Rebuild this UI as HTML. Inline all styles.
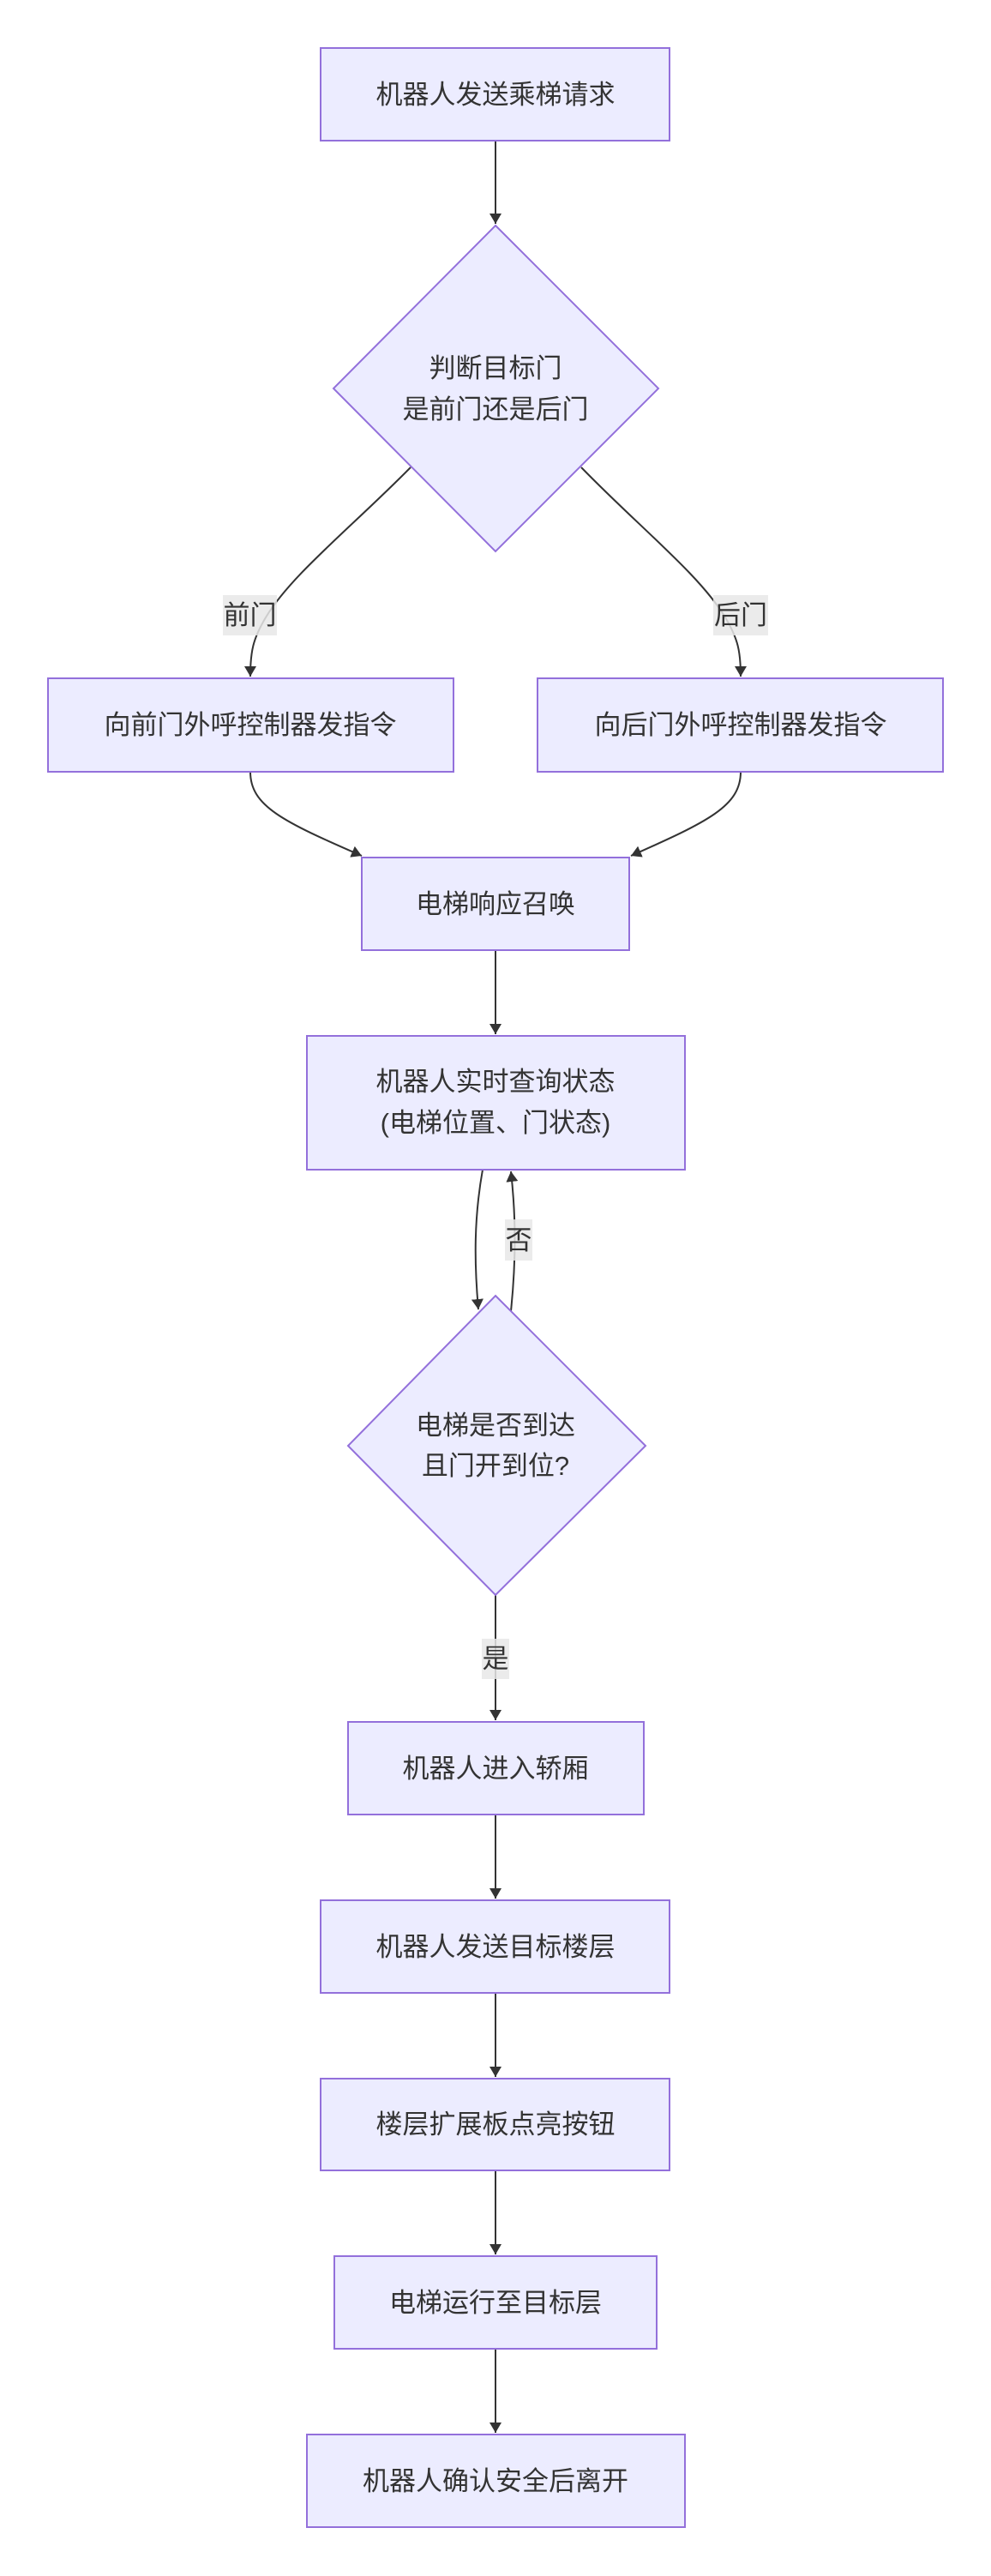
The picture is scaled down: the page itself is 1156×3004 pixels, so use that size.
<!DOCTYPE html>
<html><head><meta charset="utf-8"><style>
html,body{margin:0;padding:0;background:#fff;}
svg{display:block;}
text{font-family:"Liberation Sans","Noto Sans CJK SC",sans-serif;font-size:31px;fill:#333;}
.n{fill:#ECECFF;stroke:#9370DB;stroke-width:2;}
.e{fill:none;stroke:#333;stroke-width:2;}
.lb{fill:rgba(232,232,232,0.85);}
</style></head><body>
<svg width="1156" height="3004" viewBox="0 0 1156 3004" xmlns="http://www.w3.org/2000/svg">
<defs>
<marker id="a" markerUnits="userSpaceOnUse" markerWidth="14" markerHeight="14" refX="12" refY="7" orient="auto">
<path d="M0,0 L12,7 L0,14 z" fill="#333"/>
</marker>
</defs>

<!-- edges -->
<path class="e" d="M578,164 L578,261" marker-end="url(#a)"/>
<path class="e" d="M479,545 C410,615 340,670 310,720 C295,745 292,760 292,789" marker-end="url(#a)"/>
<path class="e" d="M678,545 C746,615 816,670 846,720 C861,745 864,760 864,789" marker-end="url(#a)"/>
<path class="e" d="M292,900 C292,940 330,958 422,998" marker-end="url(#a)"/>
<path class="e" d="M864,900 C864,940 826,958 736,998" marker-end="url(#a)"/>
<path class="e" d="M578,1108 L578,1206" marker-end="url(#a)"/>
<path class="e" d="M563,1364 C553,1420 553,1470 558,1527" marker-end="url(#a)"/>
<path class="e" d="M596,1529 C602,1470 602,1420 596,1366" marker-end="url(#a)"/>
<path class="e" d="M578,1860 L578,2006" marker-end="url(#a)"/>
<path class="e" d="M578,2116 L578,2214" marker-end="url(#a)"/>
<path class="e" d="M578,2324 L578,2422" marker-end="url(#a)"/>
<path class="e" d="M578,2531 L578,2629" marker-end="url(#a)"/>
<path class="e" d="M578,2739 L578,2837" marker-end="url(#a)"/>

<!-- edge labels -->
<rect class="lb" x="260" y="694" width="63" height="47"/>
<text x="291.5" y="728" text-anchor="middle">前门</text>
<rect class="lb" x="832" y="694" width="64" height="47"/>
<text x="864" y="728" text-anchor="middle">后门</text>
<rect class="lb" x="589" y="1422" width="32" height="48"/>
<text x="605" y="1457" text-anchor="middle">否</text>
<rect class="lb" x="562" y="1911" width="32" height="47"/>
<text x="578" y="1945" text-anchor="middle">是</text>

<!-- nodes -->
<rect class="n" x="374" y="56" width="407" height="108"/>
<text x="578" y="121" text-anchor="middle">机器人发送乘梯请求</text>

<polygon class="n" points="578,263 768,453 578,643 389,453"/>
<text x="578" y="440" text-anchor="middle">判断目标门</text>
<text x="578" y="488" text-anchor="middle">是前门还是后门</text>

<rect class="n" x="56" y="791" width="473" height="109"/>
<text x="292" y="856" text-anchor="middle">向前门外呼控制器发指令</text>
<rect class="n" x="627" y="791" width="473" height="109"/>
<text x="864" y="856" text-anchor="middle">向后门外呼控制器发指令</text>

<rect class="n" x="422" y="1000" width="312" height="108"/>
<text x="578" y="1065" text-anchor="middle">电梯响应召唤</text>

<rect class="n" x="358" y="1208" width="441" height="156"/>
<text x="578" y="1272" text-anchor="middle">机器人实时查询状态</text>
<text x="578" y="1320" text-anchor="middle">(电梯位置、门状态)</text>

<polygon class="n" points="578,1511 753,1686 578,1860 406,1686"/>
<text x="578" y="1673" text-anchor="middle">电梯是否到达</text>
<text x="578" y="1720" text-anchor="middle">且门开到位?</text>

<rect class="n" x="406" y="2008" width="345" height="108"/>
<text x="578" y="2073" text-anchor="middle">机器人进入轿厢</text>

<rect class="n" x="374" y="2216" width="407" height="108"/>
<text x="578" y="2281" text-anchor="middle">机器人发送目标楼层</text>

<rect class="n" x="374" y="2424" width="407" height="107"/>
<text x="578" y="2488" text-anchor="middle">楼层扩展板点亮按钮</text>

<rect class="n" x="390" y="2631" width="376" height="108"/>
<text x="578" y="2696" text-anchor="middle">电梯运行至目标层</text>

<rect class="n" x="358" y="2839" width="441" height="108"/>
<text x="578" y="2904" text-anchor="middle">机器人确认安全后离开</text>
</svg>
</body></html>
